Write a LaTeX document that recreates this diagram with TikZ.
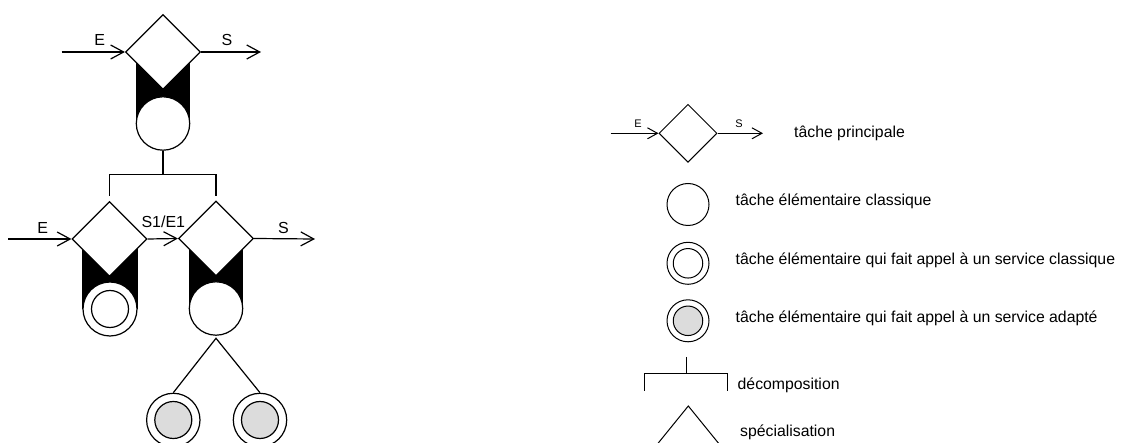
\documentclass[tikz,border=0pt]{standalone}
\usepackage{fontspec}
\setmainfont{Liberation Sans}
\usetikzlibrary{shapes.geometric,arrows.meta,backgrounds}
\definecolor{adaptgray}{RGB}{220,220,220}
\begin{document}
\begin{tikzpicture}[x=1pt,y=-1pt,
  mainline/.style={line width=1.2pt},
  legline/.style={line width=1pt},
  taskbox/.style={shape=diamond, draw, fill=white, minimum size=75pt, inner sep=0pt, line width=1.2pt},
  elem/.style={circle, draw, fill=white, minimum size=53.4pt, inner sep=0pt, line width=1.2pt},
  elemin/.style={circle, draw, fill=white, minimum size=37pt, inner sep=0pt, line width=1.2pt},
  elemgray/.style={elemin, fill=adaptgray},
  arr/.style={line width=1.2pt, -{Straight Barb[length=13pt,width=14pt]}},
  legarr/.style={line width=1pt, -{Straight Barb[length=10pt,width=11pt]}},
  lbl/.style={inner sep=0pt, font=\fontsize{16}{19}\selectfont},
  leglbl/.style={inner sep=0pt, font=\fontsize{11}{13}\selectfont},
  ltext/.style={inner sep=0pt, anchor=base west, font=\fontsize{15.8}{18}\selectfont},
  legtask/.style={shape=diamond, draw, fill=white, minimum size=58pt, inner sep=0pt, line width=1pt},
  legcirc/.style={circle, draw, fill=white, minimum size=42pt, inner sep=0pt, line width=1pt},
  legin/.style={circle, draw, fill=white, minimum size=29.5pt, inner sep=0pt, line width=1pt},
]
\useasboundingbox (0,0) rectangle (1125,443);
\clip (0,0) rectangle (1125,443);

% ---------- main diagram ----------
\node[taskbox] (m1) at (163,52) {};
\node[elem] (c1) at (163,123.5) {};
\begin{scope}[on background layer]
  \fill (c1.west |- m1.center) rectangle (c1.east);
\end{scope}

\node[taskbox] (m2) at (109.5,239) {};
\node[elem, minimum size=54pt] (c2) at (110,309) {};
\node[elemin] (c2i) at (110,309) {};
\begin{scope}[on background layer]
  \fill (c2.west |- m2.center) rectangle (c2.east);
\end{scope}

\node[taskbox] (m3) at (216,238.5) {};
\node[elem] (c3) at (216,308.5) {};
\begin{scope}[on background layer]
  \fill (c3.west |- m3.center) rectangle (c3.east);
\end{scope}

\node[elem] (g1) at (173.3,420) {};
\node[elemgray] (g1i) at (173.3,420) {};
\node[elem] (g2) at (260,420) {};
\node[elemgray] (g2i) at (260,420) {};

% arrows
\coordinate (in1) at (61.7,52);
\coordinate (out1) at (261,52);
\draw[arr] (in1) -- (m1.west);
\draw[arr] (m1.east) -- (out1);
\node[lbl] (e1) at (99.7,40.2) {E};
\node[lbl] (s1) at (227,39.5) {S};

\coordinate (in2) at (8.3,239);
\coordinate (out3) at (315,239);
\draw[arr] (in2) -- (m2.west);
\draw[arr] (m2.east) -- (m3.west);
\draw[arr] (m3.east) -- (out3);
\node[lbl] (e2) at (42.7,228.2) {E};
\node[lbl] (s2e2) at (163.3,221.5) {S1/E1};
\node[lbl] (s3) at (283.5,228) {S};

% decomposition
\coordinate (dmid) at (163,174.3);
\coordinate (dleft) at (109.3,196);
\coordinate (dright) at (216,196);
\draw[mainline] (c1.south) -- (dmid);
\draw[mainline] (dleft) -- (dleft |- dmid) -- (dright |- dmid) -- (dright);

% specialisation
\coordinate (apex) at (216,338.3);
\draw[mainline] (g1.north) -- (apex) -- (g2.north);

% ---------- legend ----------
\node[legtask] (lm) at (688,133.3) {};
\coordinate (lin) at (610.5,133.3);
\coordinate (lout) at (763,133.3);
\draw[legarr] (lin) -- (lm.west);
\draw[legarr] (lm.east) -- (lout);
\node[leglbl] (le) at (638,123.7) {E};
\node[leglbl] (ls) at (739,123.7) {S};
\node[ltext] (tp) at (794,137.5) {tâche principale};

\node[legcirc] (lc1) at (688,204.5) {};
\node[ltext] (tc) at (735.5,206) {tâche élémentaire classique};

\node[legcirc] (lc2) at (688,263.3) {};
\node[legin] (lc2i) at (688,263.3) {};
\node[ltext] (ts) at (735.5,265) {tâche élémentaire qui fait appel à un service classique};

\node[legcirc] (lc3) at (688,320.8) {};
\node[legin, fill=adaptgray] (lc3i) at (688,320.8) {};
\node[ltext] (ta) at (735.5,322.3) {tâche élémentaire qui fait appel à un service adapté};

\coordinate (ldtop) at (686,357);
\coordinate (ldmid) at (686,374);
\coordinate (ldl) at (644.5,391);
\coordinate (ldr) at (727.5,391);
\draw[legline] (ldtop) -- (ldmid);
\draw[legline] (ldl) -- (ldl |- ldmid) -- (ldr |- ldmid) -- (ldr);
\node[ltext] (td) at (737.5,389.3) {décomposition};

\coordinate (lsa) at (688.3,406);
\coordinate (lsl) at (652.6,450);
\coordinate (lsr) at (724,450);
\draw[legline] (lsl) -- (lsa) -- (lsr);
\node[ltext] (tsp) at (740,436.7) {spécialisation};
\end{tikzpicture}
\end{document}
